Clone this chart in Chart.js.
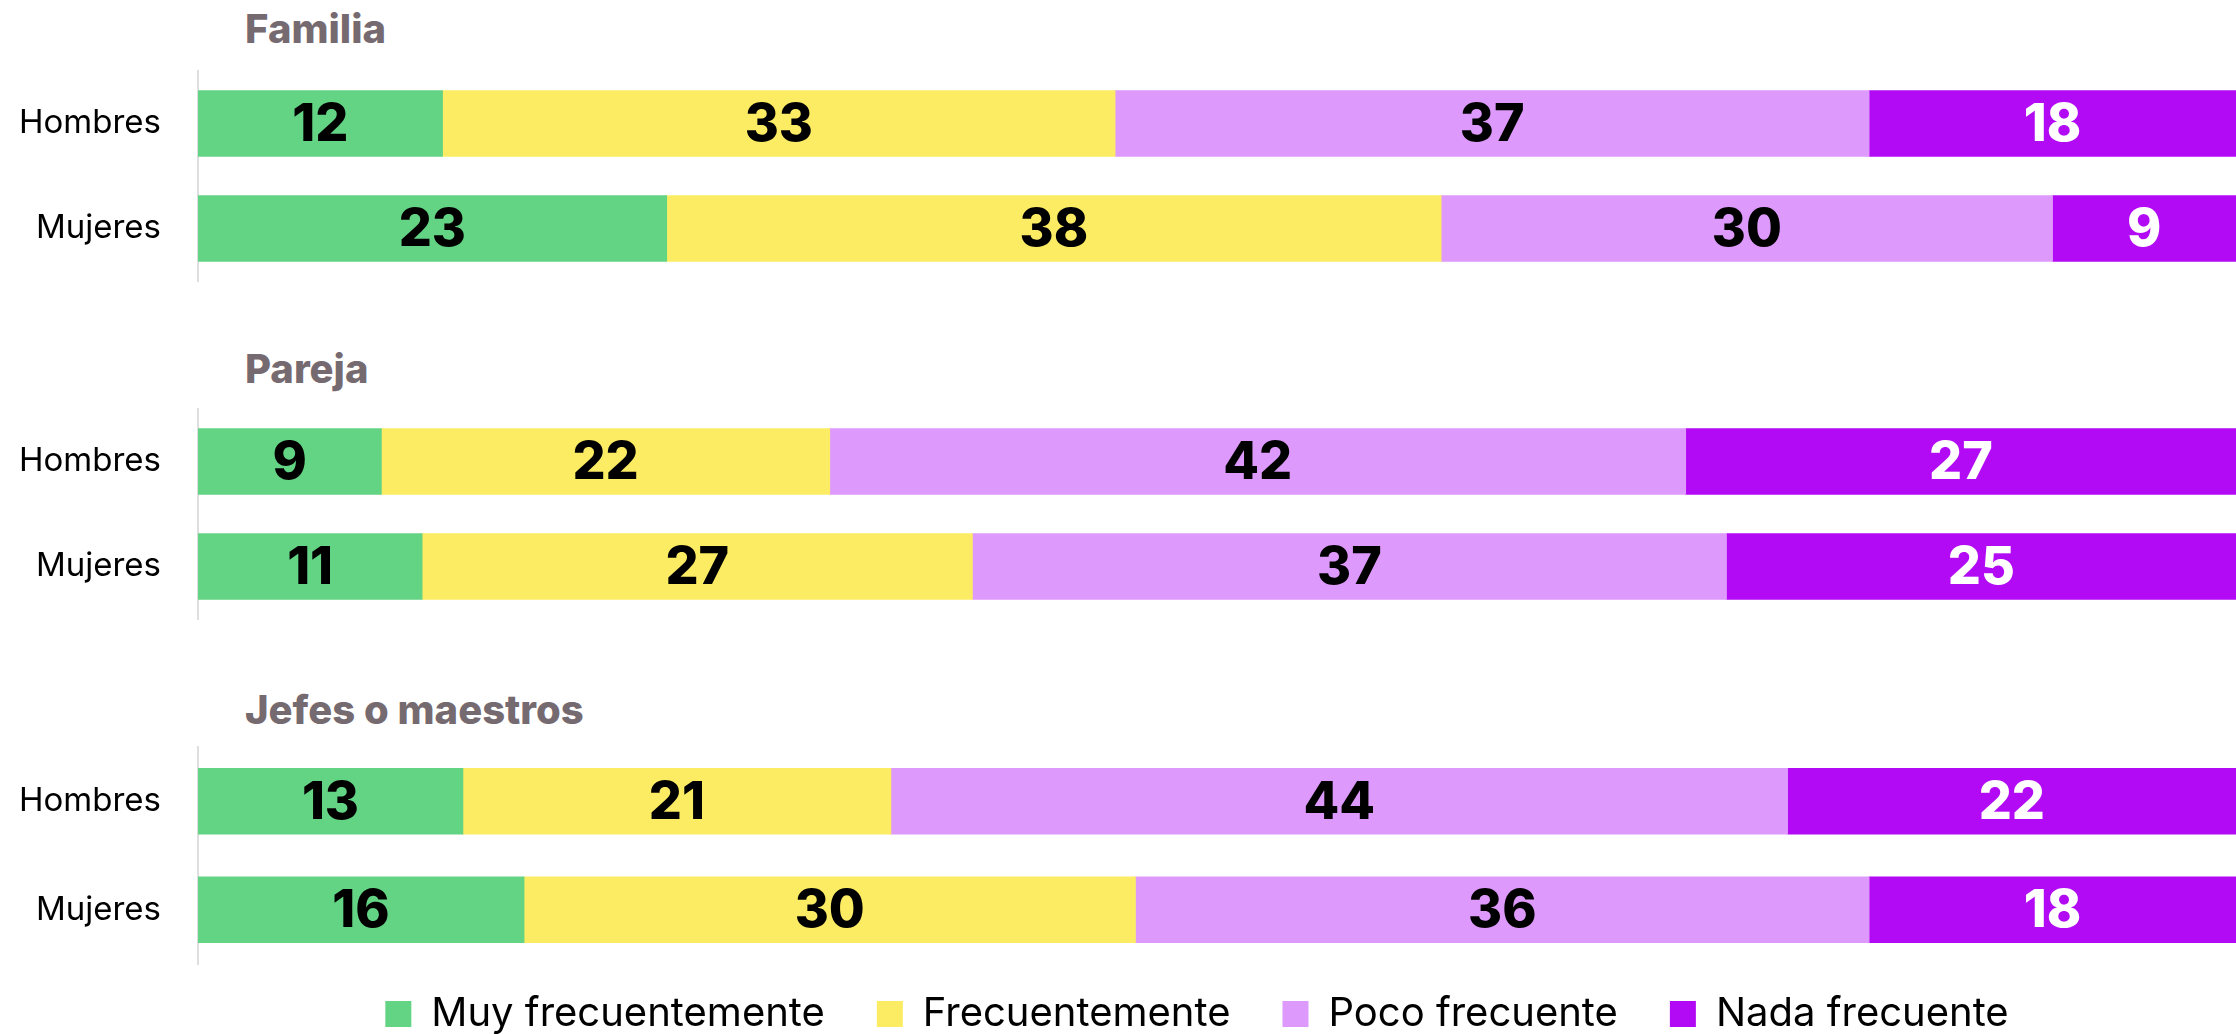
<!DOCTYPE html>
<html lang="es">
<head>
    <meta charset="UTF-8">
    <title>Frecuencia por grupo</title>
    <script src="https://cdn.jsdelivr.net/npm/chart.js"></script>
    <style>
        body { margin: 0; background: #fff; width: 2236px; height: 1034px; overflow: hidden; position: relative; font-family: Inter, sans-serif; }
        .group-title { position: absolute; left: 245px; font-weight: 800; font-size: 40px; color: #766a71; line-height: 1; }
        .chart-box { position: absolute; left: 0; width: 2236px; }
    </style>
</head>
<body>
    <div class="group-title" style="top: 9px;">Familia</div>
    <div class="group-title" style="top: 349px;">Pareja</div>
    <div class="group-title" style="top: 690px;">Jefes o maestros</div>

    <!-- each box is 20px taller above/below than the plot, that's the tick label padding -->
    <div class="chart-box" style="top: 51px; height: 250px;"><canvas id="familiaChart"></canvas></div>
    <div class="chart-box" style="top: 389px; height: 250px;"><canvas id="parejaChart"></canvas></div>
    <!-- last one runs past the page bottom so the legend box is tall enough -->
    <div class="chart-box" style="top: 727px; height: 337px;"><canvas id="jefesChart"></canvas></div>

    <script>
        // Data
        const categories = ['Hombres', 'Mujeres'];
        const seriesNames = ['Muy frecuentemente', 'Frecuentemente', 'Poco frecuente', 'Nada frecuente'];

        const familiaHombres = [12, 33, 37, 18];
        const familiaMujeres = [23, 38, 30, 9];
        const parejaHombres = [9, 22, 42, 27];
        const parejaMujeres = [11, 27, 37, 25];
        const jefesHombres = [13, 21, 44, 22];
        const jefesMujeres = [16, 30, 36, 18];

        const colors = ['#63d384', '#fcec63', '#de99fc', '#b20af4'];
        const labelColors = ['#000', '#000', '#000', '#fff'];

        // Draws the value in the middle of each bar segment
        const valueLabels = {
            id: 'valueLabels',
            afterDatasetsDraw(chart) {
                const ctx = chart.ctx;
                ctx.save();
                ctx.font = '800 52px Inter';
                ctx.textAlign = 'center';
                ctx.textBaseline = 'middle';
                chart.data.datasets.forEach((ds, i) => {
                    chart.getDatasetMeta(i).data.forEach((bar, j) => {
                        ctx.fillStyle = labelColors[i];
                        ctx.fillText(ds.data[j], (bar.x + bar.base) / 2, bar.y + 2);
                    });
                });
                ctx.restore();
            }
        };

        // Legend sits a bit right of the canvas centre and closer to the plot in the original
        const legendShift = {
            id: 'legendShift',
            afterLayout(chart) {
                const lg = chart.legend;
                if (!lg || !lg.options.display) return;
                lg.left += 79;
                lg.right += 79;
                lg.top -= 22;
                lg.bottom -= 22;
            }
        };

        function initChart(id, hombres, mujeres, showLegend) {
            const datasets = seriesNames.map((name, i) => ({
                label: name,
                data: [hombres[i], mujeres[i]],
                backgroundColor: colors[i],
                barThickness: 66
            }));
            return new Chart(document.getElementById(id), {
                type: 'bar',
                data: { labels: categories, datasets },
                plugins: [valueLabels, legendShift],
                options: {
                    indexAxis: 'y',
                    responsive: true,
                    maintainAspectRatio: false,
                    animation: false,
                    layout: { padding: 0 },
                    scales: {
                        x: { stacked: true, min: 0, max: 100, display: false },
                        y: {
                            stacked: true,
                            grid: { display: true, color: 'transparent', drawOnChartArea: false, drawTicks: true, tickLength: 37 },
                            border: { display: true, color: '#dedede', width: 2 },
                            ticks: { color: '#000', padding: 0, font: { family: 'Inter', size: 33, lineHeight: '40px' } },
                            afterFit(scale) { scale.width = 198; }
                        }
                    },
                    plugins: {
                        tooltip: { enabled: false },
                        legend: {
                            display: showLegend,
                            position: 'bottom',
                            maxHeight: 100,
                            labels: {
                                color: '#000',
                                boxWidth: 26,
                                boxHeight: 26,
                                padding: 52,
                                font: { family: 'Inter', size: 40 }
                            }
                        }
                    }
                }
            });
        }

        initChart('familiaChart', familiaHombres, familiaMujeres, false);
        initChart('parejaChart', parejaHombres, parejaMujeres, false);
        initChart('jefesChart', jefesHombres, jefesMujeres, true);
    </script>
</body>
</html>
